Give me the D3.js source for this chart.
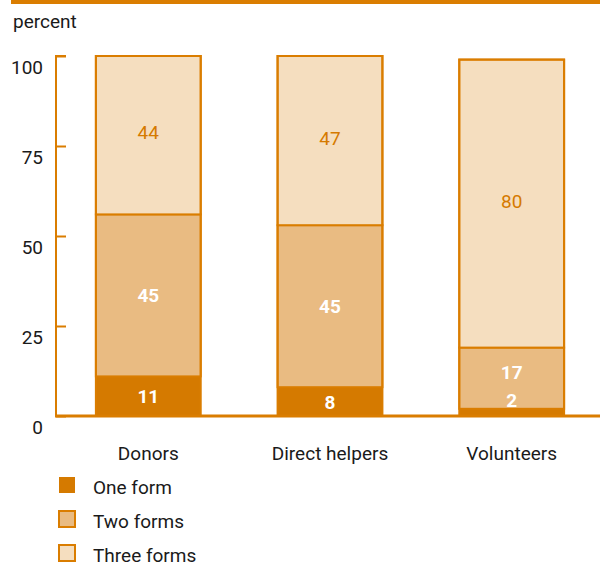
<!DOCTYPE html>
<html><head><meta charset="utf-8">
<script src="https://cdn.jsdelivr.net/npm/d3@7"></script>
<style>body{margin:0;background:#fff}svg{display:block;font-family:Roboto,"Liberation Sans",sans-serif}</style>
</head><body><svg id="c" width="600" height="565"></svg>
<script>
const categories = ["Donors", "Direct helpers", "Volunteers"];
const seriesNames = ["One form", "Two forms", "Three forms"];
const oneForm = [11, 8, 2];
const twoForms = [45, 45, 17];
const threeForms = [44, 47, 80];
const yTicks = [0, 25, 50, 75, 100];

const colors = ["#D57A00", "#E9BB82", "#F5DEBF"];
const stroke = "#DA7D00";

const svg = d3.select("#c");
const x = d3.scaleBand().domain(categories).range([57, 603]).paddingInner(0.423).paddingOuter(0.214);
const y = d3.scaleLinear().domain([0, 100]).range([416, 56]);

// top rule
svg.append("rect").attr("x", 11).attr("y", 0).attr("width", 589).attr("height", 4).attr("fill", stroke);
svg.append("text").attr("x", 13).attr("y", 28).attr("font-size", 19).attr("fill", "#1a1a1a").text("percent");

// y axis
const yAxis = d3.axisRight(y).tickValues(yTicks).tickSize(10).tickFormat("");
const ga = svg.append("g").attr("transform", "translate(56,0)").call(yAxis);
ga.select(".domain").attr("stroke", stroke).attr("stroke-width", 2).attr("d", `M10,${y(100)}H0V${y(0)}`);
ga.selectAll(".tick line").attr("stroke", stroke).attr("stroke-width", 2);
svg.append("g").selectAll("text").data(yTicks).join("text")
  .attr("x", 43).attr("y", d => y(d) + 18).attr("text-anchor", "end")
  .attr("font-size", 19).attr("fill", "#1a1a1a").text(d => d);

// stacked bars
const stackData = categories.map((c, i) => ({cat: c, s0: oneForm[i], s1: twoForms[i], s2: threeForms[i]}));
const stacked = d3.stack().keys(["s0", "s1", "s2"])(stackData);
stacked.forEach((layer, li) => {
  svg.append("g").selectAll("rect").data(layer).join("rect")
    .attr("x", d => x(d.data.cat)).attr("width", x.bandwidth())
    .attr("y", d => y(d[1])).attr("height", d => y(d[0]) - y(d[1]))
    .attr("fill", colors[li])
    .attr("stroke", li === 0 ? "none" : stroke).attr("stroke-width", 2);
});
// outer outline
svg.append("g").selectAll("rect").data(stacked[2]).join("rect")
  .attr("x", d => x(d.data.cat)).attr("width", x.bandwidth())
  .attr("y", d => y(d[1])).attr("height", d => y(0) - y(d[1]))
  .attr("fill", "none").attr("stroke", stroke).attr("stroke-width", 2);

// baseline
svg.append("line").attr("x1", 55).attr("x2", 600).attr("y1", y(0)).attr("y2", y(0))
  .attr("stroke", stroke).attr("stroke-width", 3);

// value labels
stacked.forEach((layer, li) => {
  svg.append("g").selectAll("text").data(layer).join("text")
    .attr("x", d => x(d.data.cat) + x.bandwidth() / 2)
    .attr("y", d => {
      let c = (y(d[0]) + y(d[1])) / 2;
      const h = y(d[0]) - y(d[1]);
      if (h < 20) c = y(d[1]) - 9;
      else if (li === 1 && h < 70) c -= 6;
      else if (li === 2) c -= 3;
      return c + 7;
    })
    .attr("text-anchor", "middle").attr("font-size", 19)
    .attr("font-weight", li === 2 ? "normal" : "bold")
    .attr("fill", li === 2 ? "#D57A00" : "#fff")
    .text(d => d[1] - d[0]);
});

// category labels
svg.append("g").selectAll("text").data(categories).join("text")
  .attr("x", d => x(d) + x.bandwidth() / 2).attr("y", 460)
  .attr("text-anchor", "middle").attr("font-size", 19).attr("fill", "#1a1a1a").text(d => d);

// legend
const lg = svg.append("g").selectAll("g").data(seriesNames).join("g")
  .attr("transform", (d, i) => `translate(59,${477 + i * 34})`);
lg.append("rect").attr("width", 16).attr("height", 16)
  .attr("fill", (d, i) => colors[i]).attr("stroke", stroke).attr("stroke-width", (d, i) => i === 0 ? 0 : 2);
lg.append("text").attr("x", 34).attr("y", 17).attr("font-size", 19).attr("fill", "#1a1a1a").text(d => d);
</script></body></html>
